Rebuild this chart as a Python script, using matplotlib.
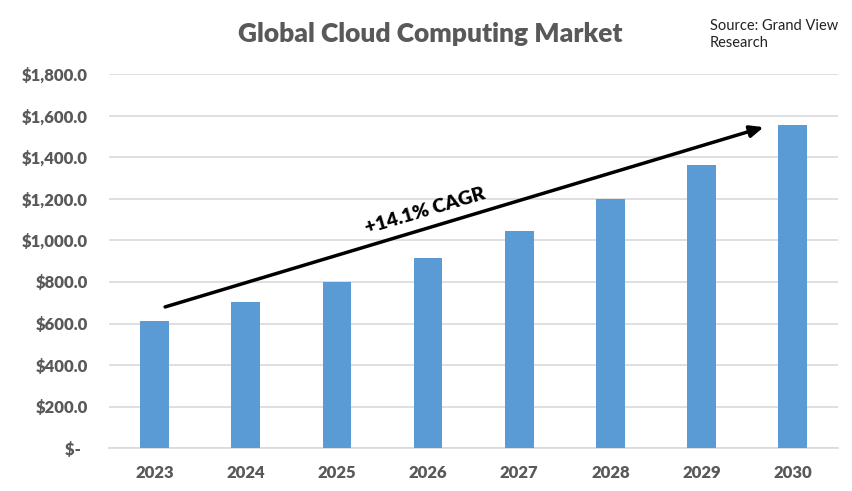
import matplotlib
matplotlib.use("Agg")
import matplotlib.pyplot as plt
from matplotlib.ticker import FuncFormatter

years = ["2023", "2024", "2025", "2026", "2027", "2028", "2029", "2030"]
market = [614, 704, 802, 917, 1046, 1197, 1363, 1556]
yticks = [0, 200, 400, 600, 800, 1000, 1200, 1400, 1600, 1800]

plt.rcParams['font.family'] = ['Lato', 'DejaVu Sans']
gray = '#595959'

fig = plt.figure(figsize=(8.52, 4.91), dpi=100)
ax = fig.add_axes([0.128, 0.087, 0.856, 0.762])

x = list(range(len(years)))
ax.bar(x, market, width=0.315, color='#5b9bd5', zorder=3)

ax.set_xlim(-0.5, len(years) - 0.5)
ax.set_ylim(0, 1800)
ax.set_yticks(yticks)

def fmt(v, pos):
    if v == 0:
        return "$-  "
    return "${:,.1f}".format(v)

ax.yaxis.set_major_formatter(FuncFormatter(fmt))
ax.set_xticks(x)
ax.set_xticklabels(years)
for lab in ax.get_xticklabels() + ax.get_yticklabels():
    lab.set_fontweight('heavy')
    lab.set_color(gray)
    lab.set_fontsize(12)
ax.tick_params(axis='both', length=0)
ax.tick_params(axis='y', pad=15)
ax.tick_params(axis='x', pad=12)

ax.grid(axis='y', color='#d9d9d9', linewidth=1.2, zorder=0)
for s in ['top', 'right', 'left']:
    ax.spines[s].set_visible(False)
ax.spines['bottom'].set_color('#d9d9d9')
ax.spines['bottom'].set_linewidth(1.2)

ax.annotate('', xy=(6.68, 1545), xytext=(0.115, 680),
            arrowprops=dict(arrowstyle='-|>,head_length=0.8,head_width=0.35',
                            color='black', lw=2.5, shrinkA=0, shrinkB=0),
            zorder=5)
ax.text(2.97, 1140, '+14.1% CAGR', rotation=16.5, ha='center', va='center',
        fontsize=14, fontweight='heavy', color='black', zorder=6)

fig.text(0.505, 0.93, 'Global Cloud Computing Market', ha='center', va='center',
         fontsize=19, fontweight='heavy', color=gray)
fig.text(0.833, 0.93, 'Source: Grand View\nResearch', ha='left', va='center',
         fontsize=10.5, color='#222222', linespacing=1.3)

fig.savefig('out.png', dpi=100)
